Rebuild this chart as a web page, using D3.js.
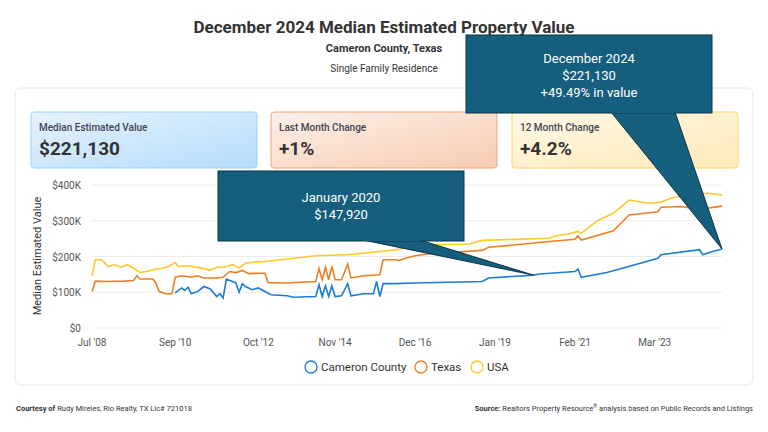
<!DOCTYPE html>
<html lang="en">
<head>
<meta charset="UTF-8">
<title>December 2024 Median Estimated Property Value</title>
<script src="https://d3js.org/d3.v7.min.js"></script>
<style>
	body { margin: 0; background: #fff; }
	text { font-family: "Roboto", "Liberation Sans", sans-serif; }
</style>
</head>
<body>
<script>
// months counted from Jul 2008
var usaMonths   = [0,1,3,5,7,9,11,13,15,17,20,22,24,26,27,30,35,37,39,41,44,46,48,50,54,63,70,80,90,95,100,105,118,122,132,143,145,149,152,153,158,163,168,174,178,181,186,193,197];
var usaValues   = [146,191,191,172,177,170,177,167,155,158,165,167,172,183,172,174,166,162,170,170,177,168,181,184,186,195,202,205,214,219,228,232,235,245,248,251,258,263,270,265,300,321,358,349,352,363,372,377,372];
var texasMonths = [0,1,5,10,13,14,15,19,20,21,23,25,26,28,31,33,35,39,41,43,45,47,49,52,54,55,61,70,71,72,73,74,75,76,78,80,81,85,90,91,95,96,98,101,105,122,124,132,143,151,152,153,163,168,177,178,184,190,197];
var texasValues = [102,131,130,131,133,146,137,137,126,102,96,96,142,146,142,146,140,140,142,158,155,161,152,153,153,127,126,130,166,135,170,135,172,135,135,179,140,146,149,191,191,189,195,202,207,217,226,232,242,248,258,246,272,316,325,338,340,332,341];
var camMonths   = [26,28,29,30,31,33,35,37,39,40,41,42,45,46,47,48,50,52,56,61,63,70,71,72,73,74,75,76,78,80,81,85,88,89,90,91,95,101,122,124,138,140,151,152,153,161,167,177,178,190,191,194,197];
var camValues   = [98,112,105,114,96,102,116,109,88,96,84,137,126,100,124,116,107,112,93,90,86,88,121,88,118,88,118,88,90,124,90,96,96,130,88,124,124,126,130,140,148,151,158,165,142,155,170,195,205,219,205,214,221];
var yTicks = [0,100,200,300,400];
var xTickMonths = [0,26,52,76,101,126,151,176];
var xTickLabels = ["Jul '08","Sep '10","Oct '12","Nov '14","Dec '16","Jan '19","Feb '21","Mar '23"];
var cardLabels = ["Median Estimated Value","Last Month Change","12 Month Change"];
var cardValues = ["$221,130","+1%","+4.2%"];
var legendNames = ["Cameron County","Texas","USA"];
var colors = ["#1b7cd6","#f07f22","#ffc72c"];

var W = 768, H = 432;
var start = new Date(2008, 6, 1);
function mdate(m) { return d3.timeMonth.offset(start, m); }

var svg = d3.select('body').append('svg').attr('width', W).attr('height', H);
var defs = svg.append('defs');

svg.append('text').attr('x', 384).attr('y', 33).attr('text-anchor', 'middle')
	.attr('font-size', 17).attr('font-weight', 'bold').attr('fill', '#333')
	.text('December 2024 Median Estimated Property Value');
svg.append('text').attr('x', 384).attr('y', 52).attr('text-anchor', 'middle')
	.attr('font-size', 11).attr('font-weight', 'bold').attr('fill', '#333').text('Cameron County, Texas');
svg.append('text').attr('x', 384).attr('y', 72).attr('text-anchor', 'middle')
	.attr('font-size', 10).attr('fill', '#333').text('Single Family Residence');

svg.append('rect').attr('x', 15).attr('y', 88).attr('width', 738).attr('height', 297).attr('rx', 6)
	.attr('fill', '#fff').attr('stroke', '#e3e8ee');

// cards
var cardStyle = [["#e6f3fd","#b4dcfb","#9fd0f8"],["#fdf1ea","#f7cbb0","#f2a27a"],["#fff8e6","#ffeab8","#ffd56a"]];
var cardX = [31, 271, 512];
cardX.forEach(function (cx, i) {
	var g = defs.append('linearGradient').attr('id', 'cg' + i).attr('x1', 0).attr('y1', 0).attr('x2', 1).attr('y2', 1);
	g.append('stop').attr('offset', '0%').attr('stop-color', cardStyle[i][0]);
	g.append('stop').attr('offset', '100%').attr('stop-color', cardStyle[i][1]);
	svg.append('rect').attr('x', cx).attr('y', 112).attr('width', 226).attr('height', 56).attr('rx', 3)
		.attr('fill', 'url(#cg' + i + ')').attr('stroke', cardStyle[i][2]);
	svg.append('text').attr('x', cx + 8).attr('y', 131).attr('font-size', 10).attr('font-weight', 500)
		.attr('fill', '#445').text(cardLabels[i]);
	svg.append('text').attr('x', cx + 8).attr('y', 155).attr('font-size', 19).attr('font-weight', 'bold')
		.attr('fill', '#333').text(cardValues[i]);
});

// chart
var x = d3.scaleTime().domain([mdate(0), mdate(197)]).range([92, 722]);
var y = d3.scaleLinear().domain([0, 400]).range([328, 185]);

svg.append('g').selectAll('line').data(yTicks).enter().append('line')
	.attr('x1', 92).attr('x2', 722).attr('y1', function (d) { return y(d); }).attr('y2', function (d) { return y(d); })
	.attr('stroke', '#ececec');
svg.append('g').selectAll('text').data(yTicks).enter().append('text')
	.attr('x', 81).attr('y', function (d) { return y(d) + 4; }).attr('text-anchor', 'end')
	.attr('font-size', 10).attr('fill', '#555')
	.text(function (d) { return d === 0 ? '$0' : '$' + d + 'K'; });
svg.append('g').selectAll('text').data(xTickMonths).enter().append('text')
	.attr('x', function (d) { return x(mdate(d)); }).attr('y', 346).attr('text-anchor', 'middle')
	.attr('font-size', 10).attr('fill', '#555')
	.text(function (d, i) { return xTickLabels[i]; });
svg.append('text').attr('transform', 'translate(41,256) rotate(-90)').attr('text-anchor', 'middle')
	.attr('font-size', 11).attr('fill', '#333').text('Median Estimated Value');

var line = d3.line().x(function (d) { return x(mdate(d[0])); }).y(function (d) { return y(d[1]); });
var series = [[usaMonths, usaValues, 2], [texasMonths, texasValues, 1], [camMonths, camValues, 0]];
series.forEach(function (s) {
	var pts = s[0].map(function (m, i) { return [m, s[1][i]]; });
	svg.append('path').datum(pts).attr('d', line).attr('fill', 'none')
		.attr('stroke', colors[s[2]]).attr('stroke-width', 1.6);
});

// legend
var legX = [311, 421, 477];
legendNames.forEach(function (n, i) {
	svg.append('circle').attr('cx', legX[i]).attr('cy', 367).attr('r', 6).attr('fill', '#fff')
		.attr('stroke', colors[i]).attr('stroke-width', 1.3);
	svg.append('text').attr('x', legX[i] + 10).attr('y', 371).attr('font-size', 11.5).attr('fill', '#333').text(n);
});

// footer
var f1 = svg.append('text').attr('x', 16).attr('y', 411).attr('font-size', 7.5).attr('fill', '#333');
f1.append('tspan').attr('font-weight', 'bold').text('Courtesy of ');
f1.append('tspan').text('Rudy Mireles, Rio Realty, TX Lic# 721018');
var f2 = svg.append('text').attr('x', 753).attr('y', 411).attr('text-anchor', 'end').attr('font-size', 7.5).attr('fill', '#333');
f2.append('tspan').attr('font-weight', 'bold').text('Source: ');
f2.append('tspan').text('Realtors Property Resource');
f2.append('tspan').attr('font-size', 5).attr('dy', -3).text('®');
f2.append('tspan').attr('dy', 3).text(' analysis based on Public Records and Listings');

// callouts
function callout(rx, ry, rw, rh, b1, b2, tipM, tipV, lines, ly) {
	var tx = x(mdate(tipM)), ty = y(tipV);
	var g = svg.append('g');
	g.append('path').attr('d', 'M' + b1 + ',' + (ry + rh - 1) + 'L' + tx + ',' + ty + 'L' + b2 + ',' + (ry + rh - 1) + 'Z')
		.attr('fill', '#155e7e').attr('stroke', '#0c3447').attr('stroke-width', 1);
	g.append('rect').attr('x', rx).attr('y', ry).attr('width', rw).attr('height', rh)
		.attr('fill', '#155e7e').attr('stroke', '#0c3447').attr('stroke-width', 1);
	g.append('path').attr('d', 'M' + (b1 + 1) + ',' + (ry + rh - 1) + 'L' + (b2 - 1) + ',' + (ry + rh - 1))
		.attr('stroke', '#155e7e').attr('stroke-width', 2);
	lines.forEach(function (t, i) {
		g.append('text').attr('x', rx + rw / 2).attr('y', ly + i * 17).attr('text-anchor', 'middle')
			.attr('font-size', 13).attr('fill', '#fff').text(t);
	});
}
callout(218, 171, 246, 70, 363, 420, 138, 148, ['January 2020', '$147,920'], 202);
callout(466, 35, 246, 78, 611, 675, 197, 221, ['December 2024', '$221,130', '+49.49% in value'], 63);
</script>
</body>
</html>
